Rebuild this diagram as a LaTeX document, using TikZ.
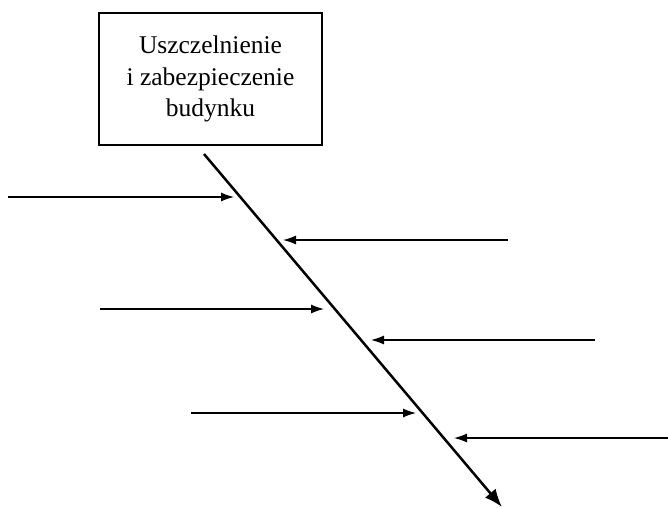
\documentclass[tikz,border=0pt]{standalone}
\usepackage{fontspec}
\setmainfont{Liberation Serif}
\usetikzlibrary{arrows.meta}

\tikzset{
  effectbox/.style={draw, line width=1.3pt, minimum width=223pt, minimum height=132pt,
    align=center, font=\fontsize{25.5}{31.5}\selectfont},
  causearrow/.style={line width=1.2pt, -{Latex[length=13pt,width=9pt]}}
}

\begin{document}
\begin{tikzpicture}[x=1pt,y=-1pt]
\useasboundingbox (0,0) rectangle (668,507);
\node[effectbox] (effect) at (210.5,79) {Uszczelnienie\\ i zabezpieczenie\\ budynku};
% spine
\coordinate (spinetop) at (204,154);
\coordinate (spineend) at (502,507);
\draw[line width=2.5pt, -{Latex[length=18pt,width=14pt]}] (spinetop) -- (spineend);
% causes
\foreach \n/\xa/\xb/\y in {1/8/234/197, 2/508/283/240, 3/100/324/309,
                           4/595/371/340, 5/191/416/413, 6/668/454/438}{
  \coordinate (cause\n) at (\xa,\y);
  \coordinate (tip\n) at (\xb,\y);
  \draw[causearrow] (cause\n) -- (tip\n);
}
\end{tikzpicture}
\end{document}
